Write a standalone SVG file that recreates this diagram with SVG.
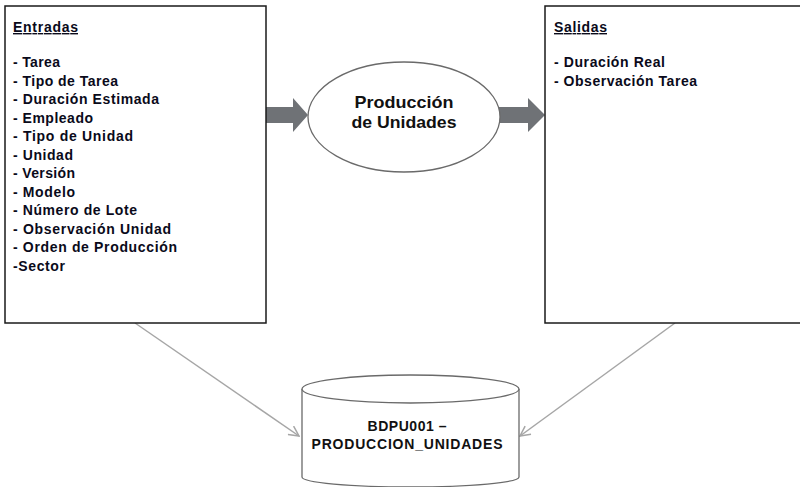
<svg xmlns="http://www.w3.org/2000/svg" width="800" height="487" viewBox="0 0 800 487">
<defs>
<style>
.box{fill:#fff;stroke:#1a1a1a;stroke-width:1.5}
.t{font-family:"Liberation Sans",Arial,sans-serif;font-weight:bold;font-size:14px;fill:#0a0a1a}
.h{text-decoration:underline}
.c{font-family:"Liberation Sans",Arial,sans-serif;font-weight:bold;fill:#111;text-anchor:middle}
.conn{stroke:#a6a6a6;stroke-width:1.5;fill:none}
.blk{fill:#6f7276}
.shape{fill:#fff;stroke:#6a6a6a;stroke-width:1.3}
</style>
<marker id="ah" viewBox="0 0 12 12" refX="11" refY="6" markerWidth="12" markerHeight="12" markerUnits="userSpaceOnUse" orient="auto">
<path d="M1,1 L11,6 L1,11" fill="none" stroke="#a6a6a6" stroke-width="1.5"/>
</marker>
</defs>
<rect width="800" height="487" fill="#fff"/>
<g id="connectors">
<line class="conn" x1="135" y1="323" x2="299" y2="436" marker-end="url(#ah)"/>
<line class="conn" x1="675" y1="323" x2="520" y2="436" marker-end="url(#ah)"/>
<polygon class="blk" points="266,107 293,107 293,98 308,115 293,132 293,123 266,123"/>
<polygon class="blk" points="499,107 528,107 528,98 545,115 528,132 528,123 499,123"/>
</g>
<g id="entradas">
<rect class="box" x="5" y="6" width="261" height="317"/>
<text class="t h" x="13" y="32" textLength="65" lengthAdjust="spacing">Entradas</text>
<text class="t" x="13" y="67" textLength="47" lengthAdjust="spacing">- Tarea</text>
<text class="t" x="13" y="85.5" textLength="105" lengthAdjust="spacing">- Tipo de Tarea</text>
<text class="t" x="13" y="104" textLength="146" lengthAdjust="spacing">- Duración Estimada</text>
<text class="t" x="13" y="122.5" textLength="80" lengthAdjust="spacing">- Empleado</text>
<text class="t" x="13" y="141" textLength="120" lengthAdjust="spacing">- Tipo de Unidad</text>
<text class="t" x="13" y="159.5" textLength="60" lengthAdjust="spacing">- Unidad</text>
<text class="t" x="13" y="178" textLength="62" lengthAdjust="spacing">- Versión</text>
<text class="t" x="13" y="196.5" textLength="62" lengthAdjust="spacing">- Modelo</text>
<text class="t" x="13" y="215" textLength="124" lengthAdjust="spacing">- Número de Lote</text>
<text class="t" x="13" y="233.5" textLength="158" lengthAdjust="spacing">- Observación Unidad</text>
<text class="t" x="13" y="252" textLength="164" lengthAdjust="spacing">- Orden de Producción</text>
<text class="t" x="13" y="271" textLength="52" lengthAdjust="spacing">-Sector</text>
</g>
<g id="proceso">
<ellipse class="shape" cx="404" cy="117" rx="96" ry="55"/>
<text class="c" x="404" y="108" font-size="17" textLength="99" lengthAdjust="spacingAndGlyphs">Producción</text>
<text class="c" x="404" y="128" font-size="17" textLength="105" lengthAdjust="spacingAndGlyphs">de Unidades</text>
</g>
<g id="salidas">
<rect class="box" x="545" y="6" width="262" height="317"/>
<text class="t h" x="554" y="32" textLength="53" lengthAdjust="spacing">Salidas</text>
<text class="t" x="554" y="67" textLength="111" lengthAdjust="spacing">- Duración Real</text>
<text class="t" x="554" y="85.5" textLength="143" lengthAdjust="spacing">- Observación Tarea</text>
</g>
<g id="bd">
<path class="shape" d="M302,389 L302,477 A108.5,10 0 0 0 519,477 L519,389"/>
<ellipse class="shape" cx="410.5" cy="389" rx="108.5" ry="14"/>
<text class="c" x="407" y="431" font-size="14" textLength="79" lengthAdjust="spacing">BDPU001 –</text>
<text class="c" x="407" y="449" font-size="14" textLength="191" lengthAdjust="spacing">PRODUCCION_UNIDADES</text>
</g>
</svg>
